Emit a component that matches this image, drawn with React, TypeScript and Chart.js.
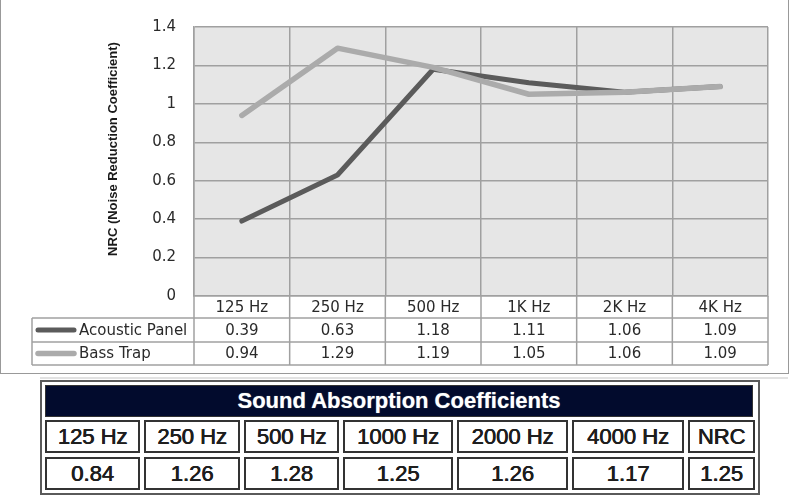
import React, { useEffect, useRef } from "react";
import { Chart, registerables } from "chart.js";

Chart.register(...registerables);

// ---- data ----
const categories = ["125 Hz", "250 Hz", "500 Hz", "1K Hz", "2K Hz", "4K Hz"];
const acousticPanel = [0.39, 0.63, 1.18, 1.11, 1.06, 1.09];
const bassTrap = [0.94, 1.29, 1.19, 1.05, 1.06, 1.09];
const seriesNames = ["Acoustic Panel", "Bass Trap"];
const yAxisTitle = "NRC (Noise Reduction Coefficient)";
const yMin = 0;
const yMax = 1.4;
const yStep = 0.2;

const tableTitle = "Sound Absorption Coefficients";
const coefHeaders = ["125 Hz", "250 Hz", "500 Hz", "1000 Hz", "2000 Hz", "4000 Hz", "NRC"];
const coefValues = ["0.84", "1.26", "1.28", "1.25", "1.26", "1.17", "1.25"];

// ---- layout (not data) ----
const cellWidths = [95, 96, 95, 110, 111, 112, 67];
const GRID = "#a0a0a0";
const TEXT = "#2a2a2a";
const FONT = "'DejaVu Sans', Verdana, sans-serif";

const tablePlugin = {
  id: "dataTable",
  beforeDraw(chart: any) {
    const { ctx, chartArea: a } = chart;
    ctx.save();
    ctx.fillStyle = "#e6e6e6";
    ctx.fillRect(a.left, a.top, a.right - a.left, a.bottom - a.top);
    ctx.restore();
  },
  afterDraw(chart: any) {
    const { ctx, chartArea: a, scales } = chart;
    const x = scales.x;
    const labels = chart.data.labels as string[];
    const n = labels.length;
    const step = x.getPixelForValue(1) - x.getPixelForValue(0);
    const y0 = a.bottom;
    const y1 = y0 + 22;
    const y2 = y1 + 24;
    const y3 = y2 + 23;
    const legendLeft = 32;

    ctx.save();
    ctx.strokeStyle = GRID;
    ctx.lineWidth = 1.5;
    const line = (ax: number, ay: number, bx: number, by: number) => {
      ctx.beginPath();
      ctx.moveTo(ax, ay);
      ctx.lineTo(bx, by);
      ctx.stroke();
    };
    for (let i = 0; i <= n; i++) {
      const px = x.getPixelForValue(i) - step / 2;
      line(px, y0, px, y3);
    }
    line(legendLeft, y1, legendLeft, y3);
    [y1, y2, y3].forEach((yy) => line(legendLeft, yy, a.right, yy));

    ctx.fillStyle = TEXT;
    ctx.font = `15px ${FONT}`;
    ctx.textAlign = "center";
    ctx.textBaseline = "middle";
    labels.forEach((lab, i) => {
      ctx.fillText(lab, x.getPixelForValue(i), (y0 + y1) / 2 + 1);
    });
    const rows = [
      [y1, y2],
      [y2, y3],
    ];
    chart.data.datasets.forEach((ds: any, di: number) => {
      const cy = (rows[di][0] + rows[di][1]) / 2;
      (ds.data as number[]).forEach((v, i) => {
        ctx.fillText(v.toFixed(2), x.getPixelForValue(i), cy + 1);
      });
      // legend key
      ctx.save();
      ctx.strokeStyle = ds.borderColor;
      ctx.lineWidth = ds.borderWidth;
      ctx.lineCap = "round";
      line(38, cy, 74, cy);
      ctx.restore();
      ctx.textAlign = "left";
      ctx.fillText(ds.label, 79, cy + 1);
      ctx.textAlign = "center";
    });

    // y axis title
    ctx.save();
    ctx.translate(113, 149);
    ctx.rotate(-Math.PI / 2);
    ctx.font = "bold 13px 'Liberation Sans', Arial, sans-serif";
    ctx.fillStyle = "#1a1a1a";
    ctx.textAlign = "center";
    ctx.textBaseline = "middle";
    ctx.fillText(yAxisTitle, 0, 0);
    ctx.restore();
    ctx.restore();
  },
};

function ChartBox() {
  const ref = useRef<HTMLCanvasElement>(null);
  useEffect(() => {
    if (!ref.current) return;
    const chart = new Chart(ref.current, {
      type: "line",
      data: {
        labels: categories,
        datasets: [
          {
            label: seriesNames[0],
            data: acousticPanel,
            borderColor: "#5b5b5b",
            borderWidth: 5,
            pointRadius: 0,
            borderCapStyle: "round",
            borderJoinStyle: "round",
            tension: 0,
            order: 1,
          },
          {
            label: seriesNames[1],
            data: bassTrap,
            borderColor: "#ababab",
            borderWidth: 5.5,
            pointRadius: 0,
            borderCapStyle: "round",
            borderJoinStyle: "round",
            tension: 0,
            order: 0,
          },
        ],
      },
      options: {
        responsive: false,
        animation: false,
        layout: { padding: { left: 0, right: 22, top: 19, bottom: 0 } },
        plugins: { legend: { display: false }, tooltip: { enabled: false } },
        scales: {
          x: {
            offset: true,
            grid: { offset: true, color: GRID, lineWidth: 1.5, drawTicks: false },
            border: { color: GRID, width: 1.5 },
            ticks: { display: false },
            afterFit: (s: any) => {
              s.height = 78;
            },
          },
          y: {
            min: yMin,
            max: yMax,
            grid: { color: GRID, lineWidth: 1.5, drawTicks: false },
            border: { color: GRID, width: 1.5 },
            ticks: {
              stepSize: yStep,
              padding: 18,
              color: TEXT,
              font: { family: FONT, size: 15 },
              callback: (v: any) => String(Number(Number(v).toFixed(1))),
            },
            afterFit: (s: any) => {
              s.width = 194;
            },
          },
        },
      },
      plugins: [tablePlugin],
    } as any);
    return () => chart.destroy();
  }, []);
  return <canvas ref={ref} width={790} height={374} style={{ position: "absolute", left: 0, top: 0 }} />;
}

const cellStyle = (w: number): React.CSSProperties => ({
  width: w,
  border: "2px solid #333",
  boxSizing: "border-box",
  display: "flex",
  alignItems: "center",
  justifyContent: "center",
  font: "22px 'Liberation Sans', Arial, sans-serif",
  color: "#1e1e1e",
  textShadow: "0.6px 0 0 #1e1e1e, 0 0.4px 0 #1e1e1e",
});

export default function App() {
  return (
    <div style={{ position: "absolute", left: 0, top: 0, width: 790, height: 500, background: "#fff", overflow: "hidden" }}>
      <div
        style={{
          position: "absolute",
          left: 0,
          top: -1,
          width: 789,
          height: 375,
          border: "1px solid #999",
          boxSizing: "border-box",
        }}
      />
      <ChartBox />
      <div style={{ position: "absolute", left: 40, top: 377, width: 748, height: 2, background: "#e2e2e2" }} />
      <div
        style={{
          position: "absolute",
          left: 40,
          top: 380,
          width: 720,
          height: 115,
          border: "2px solid #5a5a5a",
          boxSizing: "border-box",
          padding: 3,
          background: "#fff",
        }}
      >
        <div
          style={{
            height: 32,
            background: "#020b2d",
            color: "#fff",
            font: "bold 22px 'Liberation Sans', Arial, sans-serif",
            display: "flex",
            alignItems: "center",
            justifyContent: "center",
            border: "1px solid #333",
            boxSizing: "border-box",
            marginRight: 2,
            textShadow: "0 0 1px #9aa",
          }}
        >
          {tableTitle}
        </div>
        <div style={{ display: "flex", gap: 4, marginTop: 3, height: 33 }}>
          {coefHeaders.map((h, i) => (
            <div key={h} style={cellStyle(cellWidths[i])}>
              {h}
            </div>
          ))}
        </div>
        <div style={{ display: "flex", gap: 4, marginTop: 4, height: 33 }}>
          {coefValues.map((v, i) => (
            <div key={i} style={cellStyle(cellWidths[i])}>
              {v}
            </div>
          ))}
        </div>
      </div>
    </div>
  );
}
